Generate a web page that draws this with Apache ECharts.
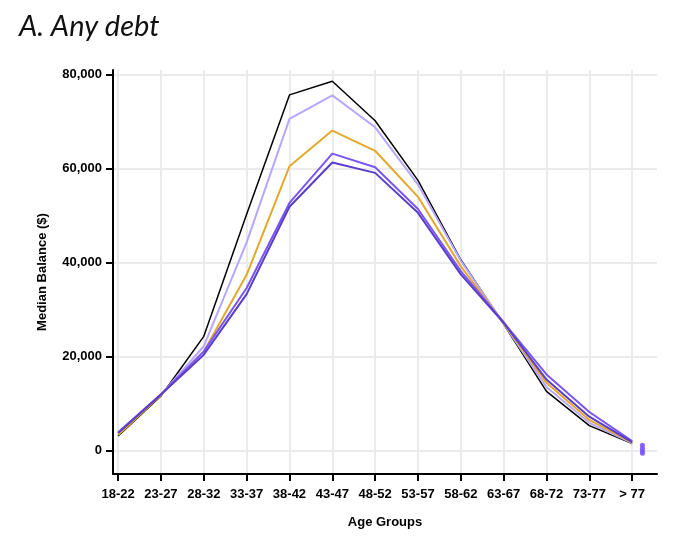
<!DOCTYPE html>
<html>
<head>
<meta charset="utf-8">
<script src="https://cdn.jsdelivr.net/npm/echarts@6/dist/echarts.min.js"></script>
<style>
html,body{margin:0;padding:0;background:#fff;}
#chart{width:679px;height:539px;}
</style>
</head>
<body>
<div id="chart"></div>
<script>
var categories = ['18-22','23-27','28-32','33-37','38-42','43-47','48-52','53-57','58-62','63-67','68-72','73-77','> 77'];
var yTicks = [0, 20000, 40000, 60000, 80000];

var seriesBlack    = [3100, 11600, 24300, 50300, 75700, 78600, 70200, 57500, 40600, 26900, 12600, 5300, 1500];
var seriesLavender = [3600, 11900, 22200, 44300, 70600, 75600, 68800, 56600, 40400, 27000, 13500, 5900, 1600];
var seriesGold     = [3300, 11800, 21100, 37400, 60500, 68100, 63800, 54000, 39200, 27100, 14400, 6500, 1700];
var seriesPurple   = [3900, 12000, 21100, 34600, 52700, 63200, 60300, 51400, 38200, 27300, 16200, 8200, 2000];
var seriesDark     = [3700, 11900, 20400, 33300, 51900, 61300, 59100, 50600, 37500, 27200, 15100, 7200, 1800];

var extraX = 12.24;
var extraPoints = [1100, 500, -100, -600];

function pairs(arr){ return arr.map(function(v,i){ return [i, v]; }); }

var chart = echarts.init(document.getElementById('chart'), null, {renderer:'canvas'});
var idx = categories.map(function(c,i){return i;});

function line(name, data, color, w){
  return {name:name, type:'line', data:pairs(data), symbol:'none', showSymbol:false,
    lineStyle:{color:color, width:w}, itemStyle:{color:color}, z:3, animation:false};
}

var labelFont = {fontFamily:'Liberation Sans', fontWeight:'bold', fontSize:13, color:'#000'};

chart.setOption({
  animation:false,
  title:{text:'A. Any debt', left:14, top:7,
    textStyle:{fontFamily:'Lato', fontStyle:'italic', fontWeight:'normal', fontSize:29, color:'#111'}},
  grid:{left:113, right:22, top:70, bottom:65, containLabel:false},
  xAxis:{
    type:'value', min:-0.12, max:12.58,
    name:'Age Groups', nameLocation:'middle', nameGap:42,
    nameTextStyle:labelFont,
    axisLine:{show:true, onZero:false, lineStyle:{color:'#000', width:2}},
    axisTick:{show:true, customValues:idx, length:7, lineStyle:{color:'#000', width:2}},
    axisLabel:Object.assign({customValues:idx, margin:14,
      formatter:function(v){ var i=Math.round(v); return categories[i]||''; }}, labelFont),
    splitLine:{show:true, lineStyle:{color:'#ebebeb', width:2}}
  },
  yAxis:{
    type:'value', min:-5000, max:81000,
    name:'Median Balance ($)', nameLocation:'middle', nameGap:64, nameRotate:90,
    nameTextStyle:labelFont,
    axisLine:{show:true, onZero:false, lineStyle:{color:'#000', width:2}},
    axisTick:{show:true, customValues:yTicks, length:7, lineStyle:{color:'#000', width:2}},
    axisLabel:Object.assign({customValues:yTicks, margin:11,
      formatter:function(v){ return v.toLocaleString('en-US'); }}, labelFont),
    splitLine:{show:true, lineStyle:{color:'#ebebeb', width:2}}
  },
  series:[
    line('Black', seriesBlack, '#000000', 1.5),
    line('Lavender', seriesLavender, '#b8a6ff', 2),
    line('Gold', seriesGold, '#e2a92b', 2),
    line('Purple', seriesPurple, '#7a55f7', 2),
    line('Dark', seriesDark, '#5a3dc9', 2),
    {type:'scatter', data:extraPoints.map(function(v){return [extraX, v];}), symbolSize:5,
      itemStyle:{color:'#7a55f7', opacity:0.9}, z:4, animation:false}
  ]
});
</script>
</body>
</html>
